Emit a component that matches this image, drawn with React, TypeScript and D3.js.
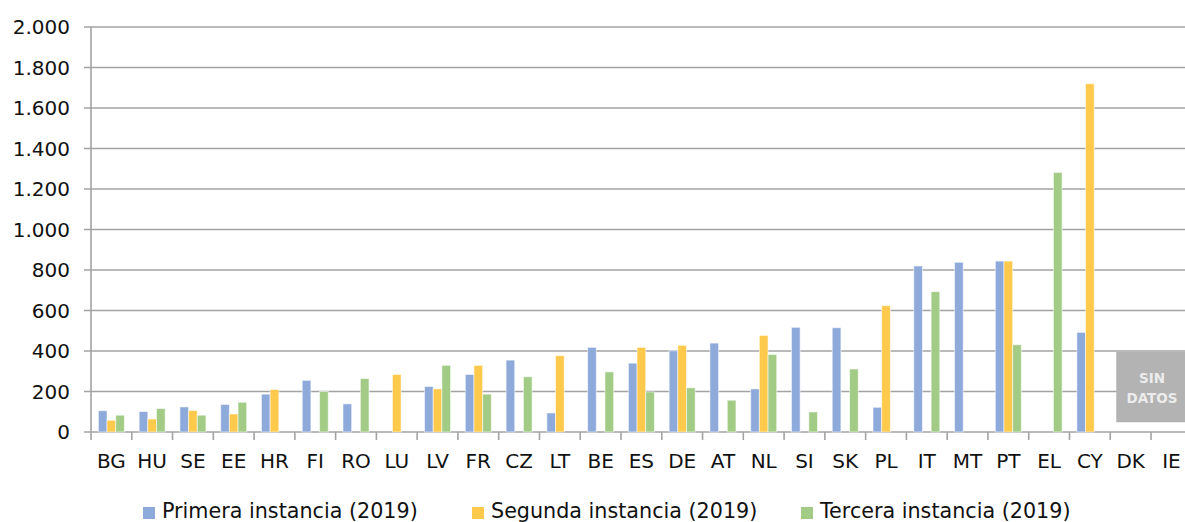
import React, { useRef, useEffect } from "react";
import * as d3 from "d3";

const categories = ["BG", "HU", "SE", "EE", "HR", "FI", "RO", "LU", "LV", "FR", "CZ", "LT", "BE", "ES", "DE", "AT", "NL", "SI", "SK", "PL", "IT", "MT", "PT", "EL", "CY", "DK", "IE"];
const seriesNames = ["Primera instancia (2019)", "Segunda instancia (2019)", "Tercera instancia (2019)"];
const seriesColors = ["#8eaadb", "#ffc94b", "#a2cc86"];

// null = no bar
const primera = [105, 101, 124, 136, 187, 255, 139, null, 225, 284, 355, 94, 418, 340, 401, 439, 213, 517, 515, 122, 820, 838, 844, null, 492, null, null];
const segunda = [58, 64, 106, 89, 210, null, null, 284, 213, 329, null, 377, null, 418, 428, null, 477, null, null, 624, null, null, 844, null, 1720, null, null];
const tercera = [83, 116, 83, 147, null, 200, 264, null, 329, 187, 273, null, 297, 198, 218, 157, 383, 99, 311, null, 693, null, 431, 1282, null, null, null];

const yTicks = [0, 200, 400, 600, 800, 1000, 1200, 1400, 1600, 1800, 2000];
const noDataCats = ["DK", "IE"];
const noDataRange = [48, 395];

const App = () => {
  const svgRef = useRef<SVGSVGElement>(null);

  useEffect(() => {
    const w = 1185;
    const margin = { top: 27, left: 91 };
    const svg = d3.select(svgRef.current);
    svg.selectAll("*").remove();

    const fmt = d3.formatLocale({ decimal: ",", thousands: ".", grouping: [3], currency: ["", "€"] }).format(",d");

    const x = d3.scaleBand<string>()
      .domain(categories)
      .range([margin.left, margin.left + 27 * 40.77]);
    const xs = d3.scaleBand<number>()
      .domain([0, 1, 2])
      .range([0, x.bandwidth()])
      .paddingOuter(0.85);
    const y = d3.scaleLinear().domain([0, 2000]).range([432, margin.top]);

    // gridlines
    svg.append("g")
      .selectAll("line")
      .data(yTicks)
      .join("line")
      .attr("x1", margin.left - 7)
      .attr("x2", w)
      .attr("y1", d => y(d))
      .attr("y2", d => y(d))
      .attr("stroke", "#a3a3a3")
      .attr("stroke-width", 1.6);

    // y labels
    svg.append("g")
      .selectAll("text")
      .data(yTicks)
      .join("text")
      .attr("x", 70)
      .attr("y", d => y(d))
      .attr("dy", "0.36em")
      .attr("text-anchor", "end")
      .attr("font-family", "DejaVu Sans")
      .attr("font-size", 20)
      .attr("fill", "#111")
      .text(d => fmt(d));

    // y axis line
    svg.append("line")
      .attr("x1", margin.left).attr("x2", margin.left)
      .attr("y1", y(2000)).attr("y2", y(0) + 8)
      .attr("stroke", "#a3a3a3").attr("stroke-width", 1.6);

    // x ticks
    svg.append("g")
      .selectAll("line")
      .data(categories.slice(1))
      .join("line")
      .attr("x1", d => x(d)!)
      .attr("x2", d => x(d)!)
      .attr("y1", y(0))
      .attr("y2", y(0) + 8)
      .attr("stroke", "#a3a3a3")
      .attr("stroke-width", 1.6);

    const series = [primera, segunda, tercera];
    series.forEach((vals, si) => {
      svg.append("g")
        .selectAll("rect")
        .data(categories.map((c, i) => ({ c, v: vals[i] })).filter(d => d.v != null))
        .join("rect")
        .attr("x", d => x(d.c)! + xs(si)!)
        .attr("y", d => y(d.v as number))
        .attr("width", xs.bandwidth())
        .attr("height", d => y(0) - y(d.v as number))
        .attr("fill", seriesColors[si])
        .attr("stroke", "#ffffff")
        .attr("stroke-opacity", 0.55)
        .attr("stroke-width", 1);
    });

    // category labels
    svg.append("g")
      .selectAll("text")
      .data(categories)
      .join("text")
      .attr("x", d => x(d)! + x.bandwidth() / 2)
      .attr("y", 468)
      .attr("text-anchor", "middle")
      .attr("font-family", "DejaVu Sans")
      .attr("font-size", 20)
      .attr("fill", "#111")
      .text(d => d);

    // no-data box
    const nx0 = x(noDataCats[0])! + 6;
    const nx1 = x(noDataCats[1])! + x.bandwidth() - 4;
    const ng = svg.append("g");
    ng.append("rect")
      .attr("x", nx0)
      .attr("y", y(noDataRange[1]))
      .attr("width", nx1 - nx0)
      .attr("height", y(noDataRange[0]) - y(noDataRange[1]))
      .attr("fill", "#b3b3b3");
    ["SIN", "DATOS"].forEach((t, i) => {
      ng.append("text")
        .attr("x", (nx0 + nx1) / 2)
        .attr("y", 382.5 + i * 20.5)
        .attr("text-anchor", "middle")
        .attr("font-family", "DejaVu Sans")
        .attr("font-weight", "bold")
        .attr("font-size", 13.5)
        .attr("fill", "#ececec")
        .text(t);
    });

    // legend
    const lg = svg.append("g");
    seriesNames.forEach((name, i) => {
      const lx = 143 + i * 329;
      lg.append("rect")
        .attr("x", lx).attr("y", 507)
        .attr("width", 12).attr("height", 12)
        .attr("fill", seriesColors[i]);
      lg.append("text")
        .attr("x", lx + 19)
        .attr("y", 518)
        .attr("font-family", "DejaVu Sans")
        .attr("font-size", 20.7)
        .attr("fill", "#111")
        .text(name);
    });
  }, []);

  return (
    <div style={{ position: "fixed", left: 0, top: 0 }}>
      <svg ref={svgRef} width={1185} height={522} style={{ display: "block", background: "#ffffff" }}></svg>
    </div>
  );
};

export default App;
